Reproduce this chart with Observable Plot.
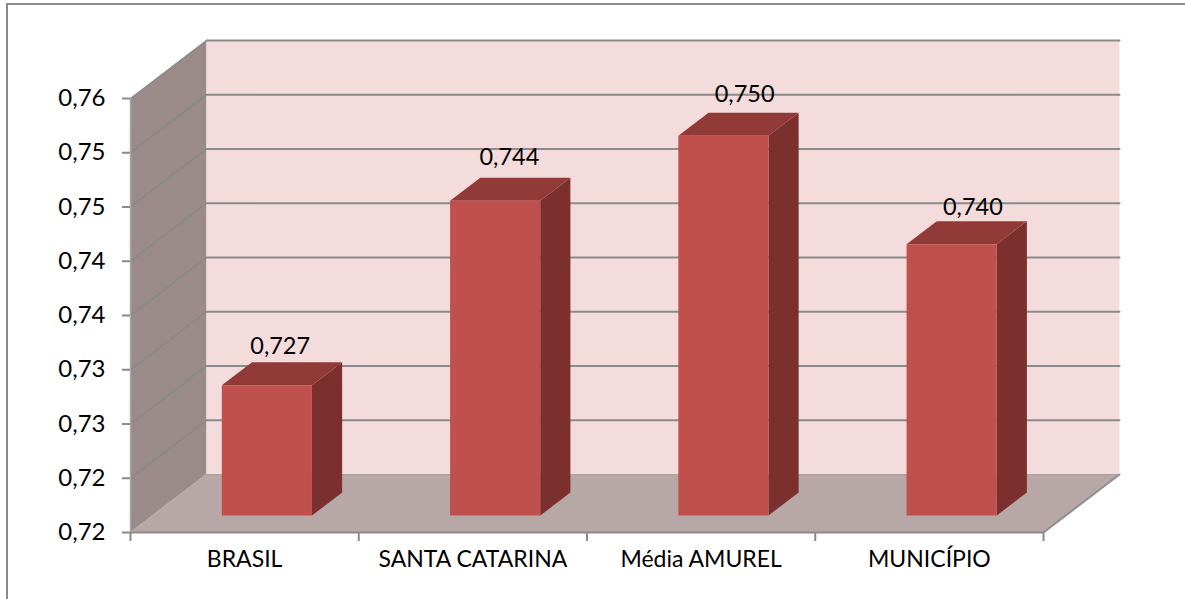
<!DOCTYPE html>
<html>
<head>
<meta charset="utf-8">
<script src="https://cdn.jsdelivr.net/npm/d3@7"></script>
<script src="https://cdn.jsdelivr.net/npm/@observablehq/plot@0.6"></script>
<style>
  html, body { margin: 0; padding: 0; background: #fff; }
  #frame { position: absolute; left: 6px; top: 3px; right: 0; bottom: 0; border-top: 2px solid #8a8a8a; border-left: 2px solid #8a8a8a; }
  #chart { position: absolute; left: 0; top: 0; }
  svg { overflow: visible; }
</style>
</head>
<body>
<div id="frame"></div>
<div id="chart"></div>
<script>
const categories = ["BRASIL", "SANTA CATARINA", "Média AMUREL", "MUNICÍPIO"];
const values = [0.727, 0.744, 0.750, 0.740];
const valueLabels = ["0,727", "0,744", "0,750", "0,740"];
const tickValues = [0.715, 0.72, 0.725, 0.73, 0.735, 0.74, 0.745, 0.75, 0.755];
const tickLabels = ["0,72", "0,72", "0,73", "0,73", "0,74", "0,74", "0,75", "0,75", "0,76"];

// oblique projection of the 3-D box: depth d (0 front .. 1 back)
const depthX = 76 / 228.25, depthY = 58 / 10850;
const base = tickValues[0], top_ = tickValues[tickValues.length - 1], n = categories.length;
const P = (x, v, d, id) => ({x: x + d * depthX, y: v + d * depthY, id});
const quad = (id, ...pts) => pts.map(([x, v, d]) => P(x, v, d, id));
const barW = 0.395, d0 = 0.293, d1 = 0.69;

const leftWall = quad("w", [0, base, 0], [0, top_, 0], [0, top_, 1], [0, base, 1]);
const backWall = quad("b", [0, base, 1], [0, top_, 1], [n, top_, 1], [n, base, 1]);
const floor = quad("f", [0, base, 0], [0, base, 1], [n, base, 1], [n, base, 0]);
const backGrid = tickValues.slice(1).flatMap((t, i) => quad("g" + i, [0, t, 1], [n, t, 1]));
const wallGrid = tickValues.slice(1).flatMap((t, i) => quad("l" + i, [0, t, 0], [0, t, 1]));
const wallEdge = quad("e", [0, base, 0], [0, base, 1]);
const floorEdge = quad("r", [n, base, 0], [n, base, 1]);
const floorBack = quad("k", [0, base, 1], [n, base, 1]);

const bars = values.map((v, i) => ({i, v, x0: i + 0.5 - barW / 2, x1: i + 0.5 + barW / 2}));
const fronts = bars.flatMap(b => quad("a" + b.i, [b.x0, base, d0], [b.x0, b.v, d0], [b.x1, b.v, d0], [b.x1, base, d0]));
const sides = bars.flatMap(b => quad("s" + b.i, [b.x1, base, d0], [b.x1, b.v, d0], [b.x1, b.v, d1], [b.x1, base, d1]));
const tops = bars.flatMap(b => quad("t" + b.i, [b.x0, b.v, d0], [b.x0, b.v, d1], [b.x1, b.v, d1], [b.x1, b.v, d0]));

const nudgeX = [-0.074, -0.07, -0.039, -0.039];
const nudgeV = [0.0015, 0.0019, 0.0017, 0.0013];
const labelPts = bars.map(b => ({
  ...P(b.i + 0.5 + nudgeX[b.i], b.v + nudgeV[b.i], d1), text: valueLabels[b.i]
}));
const catPts = categories.map((c, i) => ({x: i + 0.5, text: c}));

const face = (data, fill) => Plot.line(data, {x: "x", y: "y", z: "id", fill, stroke: "none", curve: "linear"});
const seg = (data, stroke, strokeWidth) => Plot.line(data, {x: "x", y: "y", z: "id", stroke, strokeWidth, curve: "linear"});

const chart = Plot.plot({
  width: 1185, height: 599,
  marginLeft: 130, marginRight: 142, marginTop: 98, marginBottom: 67,
  style: {fontFamily: "Lato", fontSize: "23px", color: "#000", background: "transparent", overflow: "visible"},
  x: {type: "linear", domain: [0, n]},
  y: {type: "linear", domain: [base, top_]},
  marks: [
    face(leftWall, "#9a8b8a"),
    face(backWall, "#f4dcdd"),
    face(floor, "#b8a7a7"),
    seg(wallEdge, "#b5aeae", 1.5),
    seg(floorBack, "#a8a0a0", 1),
    seg(floorEdge, "#8f8f8f", 2),
    seg(wallGrid, "#868a88", 1.5),
    seg(backGrid, "#8a8a8a", 2),
    Plot.ruleX([0], {y1: base, y2: top_, stroke: "#a9a9a9", strokeWidth: 1.5}),
    face(sides, "#7b302e"),
    face(tops, "#923a38"),
    face(fronts, "#c0504d"),
    Plot.axisY(tickValues, {
      anchor: "left", tickSize: 8, tickPadding: 17, stroke: "#8a8a8a", strokeWidth: 2,
      fill: "#000", fontSize: 24, label: null,
      tickFormat: v => tickLabels[tickValues.indexOf(v)]
    }),
    Plot.ruleY([base], {stroke: "#8a8a8a", strokeWidth: 2}),
    Plot.axisX(d3.range(n + 1), {anchor: "bottom", tickSize: 9, stroke: "#8a8a8a", strokeWidth: 2, tickFormat: () => "", label: null}),
    Plot.text(catPts, {x: "x", frameAnchor: "bottom", text: "text", dy: 34, fill: "#000", fontSize: 23}),
    Plot.text(labelPts, {x: "x", y: "y", text: "text", fill: "#000", fontSize: 23.5})
  ]
});
document.getElementById("chart").appendChild(chart);
</script>
</body>
</html>
